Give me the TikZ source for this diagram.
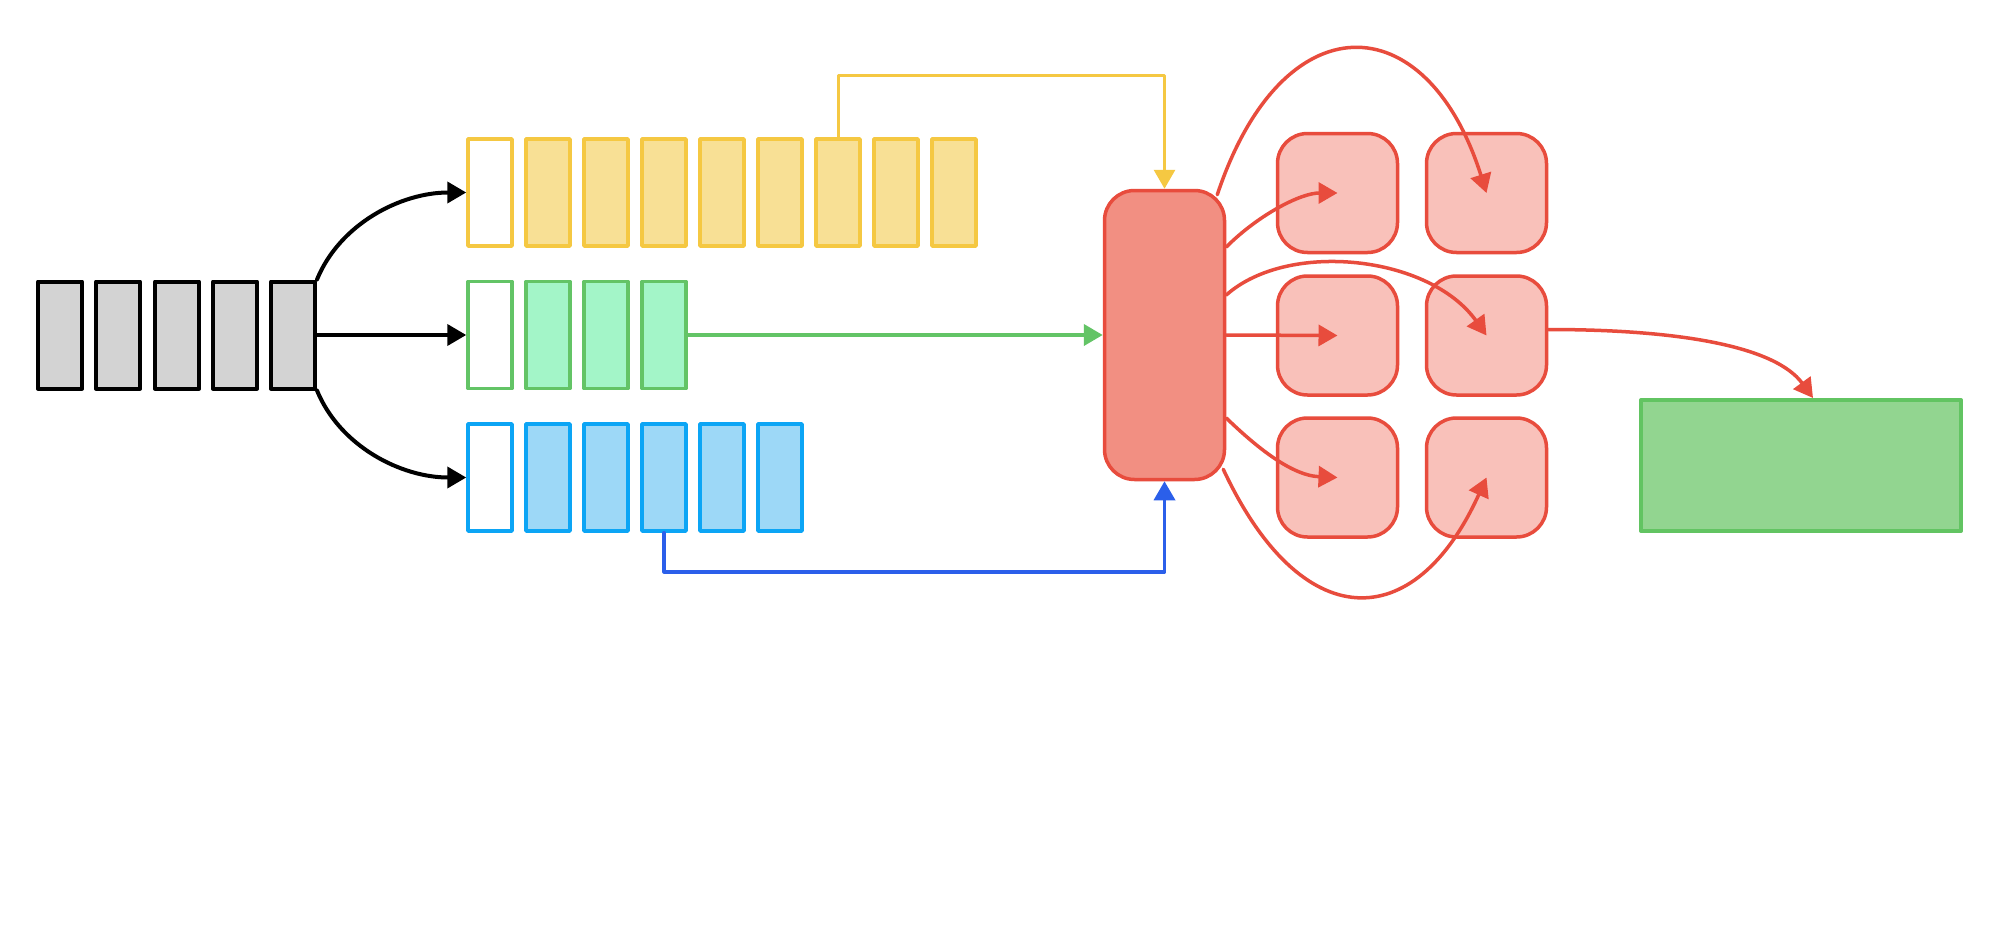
\documentclass[tikz,border=0pt]{standalone}
\usetikzlibrary{arrows.meta,calc}
\definecolor{graycol}{HTML}{D3D3D3}
\definecolor{ystroke}{HTML}{F5C842}
\definecolor{yfill}{HTML}{F8E095}
\definecolor{gstroke}{HTML}{63C466}
\definecolor{gfill}{HTML}{A3F5C8}
\definecolor{bstroke}{HTML}{0CA5F5}
\definecolor{bfill}{HTML}{9DD8F7}
\definecolor{bline}{HTML}{2B5FEA}
\definecolor{rstroke}{HTML}{E84C3D}
\definecolor{rbig}{HTML}{F28F82}
\definecolor{rsmall}{HTML}{F9C1BA}
\definecolor{ofill}{HTML}{92D590}
\definecolor{ostroke}{HTML}{62C462}
\begin{document}
\begin{tikzpicture}[x=1pt,y=-1pt,line join=round]
\useasboundingbox[fill=white] (0,0) rectangle (2000,926);
\tikzset{
  cellbox/.style={rectangle,inner sep=0pt,minimum width=44pt,minimum height=107pt,line width=3.5pt},
  graycell/.style={cellbox,draw=black,fill=graycol,line width=4pt},
  ycell/.style={cellbox,draw=ystroke,fill=yfill},
  gcell/.style={cellbox,draw=gstroke,fill=gfill},
  bcell/.style={cellbox,draw=bstroke,fill=bfill},
  bigred/.style={rectangle,rounded corners=30pt,inner sep=0pt,minimum width=120pt,minimum height=289pt,draw=rstroke,fill=rbig,line width=3.5pt},
  smallred/.style={rectangle,rounded corners=30pt,inner sep=0pt,minimum width=120pt,minimum height=119pt,draw=rstroke,fill=rsmall,line width=3.5pt},
  outbox/.style={rectangle,inner sep=0pt,minimum width=320pt,minimum height=131pt,draw=ostroke,fill=ofill,line width=4pt},
  arrowtri/.style={-{Triangle[length=19pt,width=21pt]}},
  blk/.style={arrowtri,draw=black,line width=4pt,line cap=round},
  ylw/.style={arrowtri,draw=ystroke,line width=3pt,line cap=round},
  grn/.style={arrowtri,draw=gstroke,line width=4pt,line cap=round},
  blu/.style={arrowtri,draw=bline,line width=3.5pt,line cap=round},
  red/.style={arrowtri,draw=rstroke,line width=3.5pt,line cap=round}
}
% gray input row
\foreach \i/\x in {1/60,2/118,3/177,4/235,5/293}
  \node[graycell] (g\i) at (\x,335) {};
% yellow row
\node[ycell,fill=white] (y1) at (490,192.5) {};
\foreach \i/\x in {2/548,3/606,4/664,5/722,6/780,7/838,8/896,9/954}
  \node[ycell] (y\i) at (\x,192.5) {};
% green row
\node[gcell,fill=white] (gn1) at (490,335) {};
\foreach \i/\x in {2/548,3/606,4/664}
  \node[gcell] (gn\i) at (\x,335) {};
% blue row
\node[bcell,fill=white] (b1) at (490,477.5) {};
\foreach \i/\x in {2/548,3/606,4/664,5/722,6/780}
  \node[bcell] (b\i) at (\x,477.5) {};
% big red box
\node[bigred] (R) at (1164.5,335) {};
% small red boxes
\node[smallred] (s11) at (1337.5,193) {};
\node[smallred] (s12) at (1486.5,193) {};
\node[smallred] (s21) at (1337.5,335.5) {};
\node[smallred] (s22) at (1486.5,335.5) {};
\node[smallred] (s31) at (1337.5,477.5) {};
\node[smallred] (s32) at (1486.5,477.5) {};
% output box
\node[outbox] (G) at (1801,465.5) {};
% black connectors
\draw[blk] (g5.north east) .. controls +(23,-56) and +(-65,0) .. (y1.west);
\draw[blk] (g5.east) -- (gn1.west);
\draw[blk] (g5.south east) .. controls +(23,56) and +(-65,0) .. (b1.west);
% colored connectors into big red box
\draw[ylw] (y7.north) -- ++(0,-62) -| (R.north);
\draw[grn] (gn4.east) -- (R.west);
\draw[blu] (b4.south) -- ++(0,39) -| (R.south);
% red connectors
\draw[red] ($(R.north east)+(-9,6)$) .. controls +(65,-195) and +(-60,-190) .. (s12.center);
\draw[red] ($(R.east)+(0,-88)$) .. controls +(32,-32) and +(-37,0) .. (s11.center);
\draw[red] ($(R.east)+(0,-40)$) .. controls +(62,-55) and +(-57,-80) .. (s22.center);
\draw[red] (R.east) -- (s21.center);
\draw[red] ($(R.east)+(0,83)$) .. controls +(28,27) and +(-47,-2) .. (s31.center);
\draw[red] ($(R.south east)+(-3,-12)$) .. controls +(78,167) and +(-72,159) .. (s32.center);
\draw[red] ($(s22.east)+(0,-6)$) .. controls +(130,0) and +(-38,-52) .. ($(G.north)+(12,0)$);
\end{tikzpicture}
\end{document}
